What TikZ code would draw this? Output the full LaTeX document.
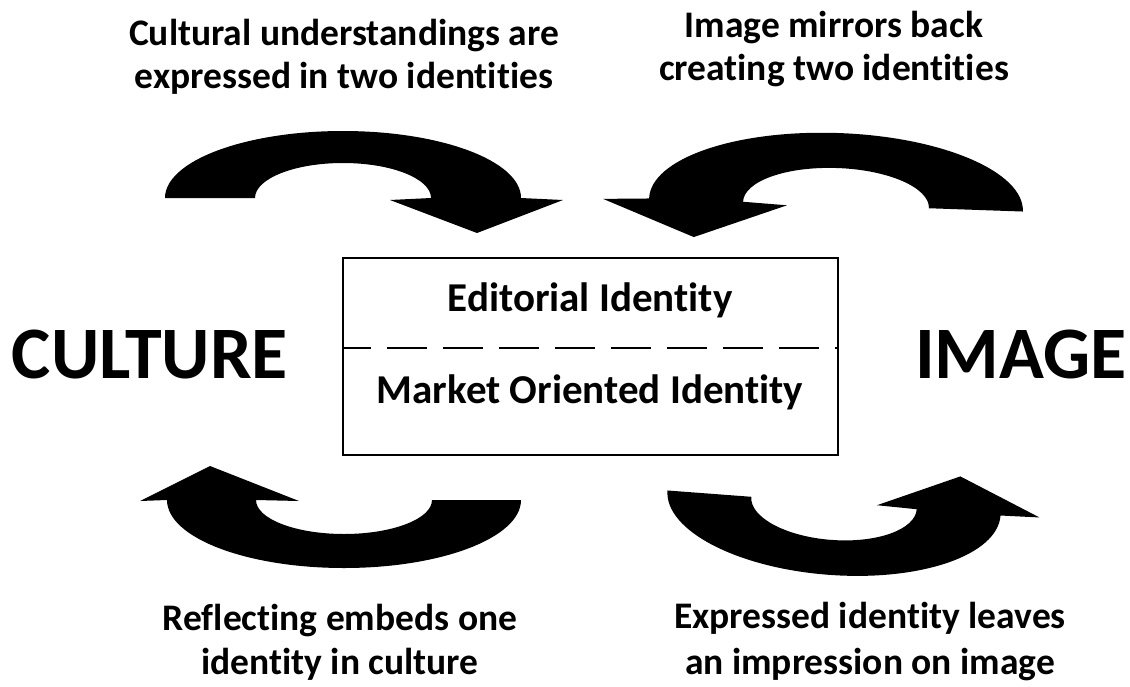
\documentclass[tikz,border=0pt]{standalone}
\usepackage{fontspec}
\setmainfont{Carlito}[Ligatures={NoCommon}]
\begin{document}
\begin{tikzpicture}[x=1pt,y=1pt,
  caption/.style={font=\bfseries\fontsize{37.5}{37.5}\selectfont, anchor=base, inner sep=0pt},
  label/.style={font=\bfseries\fontsize{41}{41}\selectfont, anchor=base, inner sep=0pt},
  big/.style={font=\bfseries\fontsize{74}{74}\selectfont, anchor=base, inner sep=0pt},
  curvearrow/.style={fill=black, draw=none}]
\useasboundingbox[fill=white] (0,0) rectangle (1130,-686);

% central box split by a dashed line
\draw[line width=1.8pt] (343,-258) rectangle (838,-455);
\coordinate (dl) at (343,-348);
\coordinate (dr) at (838,-348);
\draw[line width=2pt, dash pattern=on 40pt off 16pt, dash phase=12pt] (dl) -- (dr);
\node[label] (edit) at (590,-311) {Editorial Identity};
\node[label] (market) at (590,-403) {Market Oriented Identity};

% side words
\node[big] (culture) at (150,-378) {CULTURE};
\node[big] (image) at (1021,-378) {IMAGE};

% captions
\node[caption] (tl1) at (344,-45) {Cultural understandings are};
\node[caption] (tl2) at (344,-88) {expressed in two identities};
\node[caption] (tr1) at (834,-37) {Image mirrors back};
\node[caption] (tr2) at (834,-80) {creating two identities};
\node[caption] (bl1) at (340,-630) {Reflecting embeds one};
\node[caption] (bl2) at (340,-674) {identity in culture};
\node[caption] (br1) at (870,-628) {Expressed identity leaves};
\node[caption] (br2) at (870,-674) {an impression on image};

% curved block arrows
% top left: over the top, pointing down to the right
\fill[curvearrow] (165,-198) arc[start angle=180, end angle=0, x radius=178, y radius=67]
  -- (563,-200) -- (477,-233) -- (390,-200) -- (431,-198)
  arc[start angle=0, end angle=180, x radius=88, y radius=35] -- cycle;

% top right: over the top, pointing down to the left
\begin{scope}[rotate around={-2:(836,-205)}]
\fill[curvearrow] (1023,-205) arc[start angle=0, end angle=180, x radius=187, y radius=72]
  -- (603,-207) -- (695,-242) -- (787,-207) -- (743,-205)
  arc[start angle=180, end angle=0, x radius=93, y radius=37] -- cycle;
\end{scope}

% bottom left: under the bottom, pointing up to the left
\fill[curvearrow] (521,-500) arc[start angle=360, end angle=180, x radius=177, y radius=68]
  -- (140,-501) -- (210,-466) -- (299,-501) -- (256,-500)
  arc[start angle=180, end angle=360, x radius=88, y radius=34] -- cycle;

% bottom right: under the bottom, pointing up to the right
\begin{scope}[rotate around={-4.3:(834,-503)}]
\fill[curvearrow] (667,-503) arc[start angle=180, end angle=360, x radius=167, y radius=72]
  -- (1040,-502) -- (958,-467) -- (877,-502) -- (917,-503)
  arc[start angle=360, end angle=180, x radius=83, y radius=37] -- cycle;
\end{scope}
\end{tikzpicture}
\end{document}
